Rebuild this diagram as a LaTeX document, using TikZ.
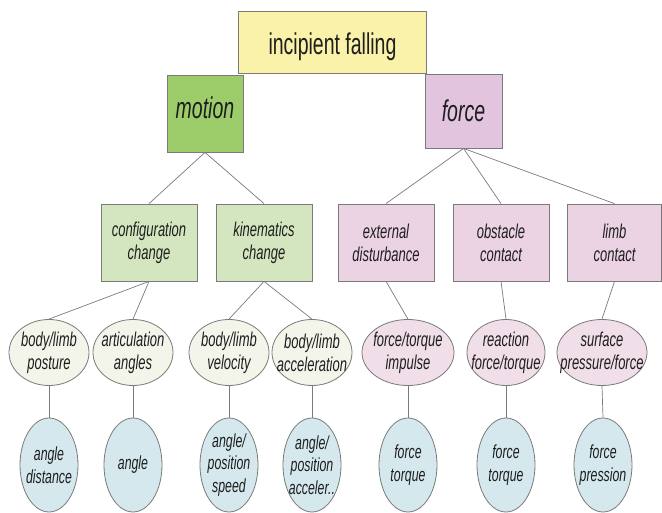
\documentclass[tikz,border=0pt]{standalone}
\usepackage{fontspec}
\setmainfont[FakeStretch=0.65]{Liberation Sans}
\usetikzlibrary{shapes.geometric}
\definecolor{topY}{HTML}{F9F2A8}
\definecolor{motG}{HTML}{9DCC6B}
\definecolor{lvtwoG}{HTML}{D4E6BF}
\definecolor{forP}{HTML}{E2C4DE}
\definecolor{lvtwoP}{HTML}{EBD3E4}
\definecolor{lvthreeP}{HTML}{F0DEE9}
\definecolor{lvthreeC}{HTML}{F3F5EA}
\definecolor{lvfourB}{HTML}{D4E8EE}
\definecolor{edgeC}{HTML}{7A7A7A}
\definecolor{txtC}{HTML}{1E1E1E}
\tikzset{
  box/.style={draw=edgeC, line width=0.8pt, rectangle, inner sep=0pt, align=center, text=txtC},
  oval/.style={draw=edgeC, line width=0.8pt, ellipse, inner sep=-25pt, align=center, text=txtC,
    font=\fontsize{20}{23}\selectfont\itshape},
  lvtwo/.style={box, minimum width=96pt, minimum height=77pt, font=\fontsize{20}{23}\selectfont\itshape},
  lvthree/.style={oval, minimum height=66pt},
  lvfour/.style={oval, minimum width=58pt, minimum height=94pt, fill=lvfourB,
    font=\fontsize{19}{22.5}\selectfont\itshape},
  link/.style={draw=edgeC, line width=0.7pt}
}
\begin{document}
\begin{tikzpicture}[x=1pt,y=-1pt]
\useasboundingbox (0,0) rectangle (662,513);
% top
\node[box, fill=topY, minimum width=188pt, minimum height=62pt, font=\fontsize{30}{34}\selectfont,
  text height=32pt, text depth=6pt] (top) at (332.5,42) {incipient falling};
\node[box, fill=motG, minimum width=76pt, minimum height=77pt, font=\fontsize{30}{34}\selectfont\itshape,
  text height=21pt, text depth=10pt] (mot) at (205,113.5) {motion};
\node[box, fill=forP, minimum width=77pt, minimum height=74pt, font=\fontsize{30}{34}\selectfont\itshape] (frc) at (463.5,111) {force};
% level 2
\node[lvtwo, fill=lvtwoG] (cfg) at (149,242.5) {configuration\\change};
\node[lvtwo, fill=lvtwoG] (kin) at (264,242.5) {kinematics\\change};
\node[lvtwo, fill=lvtwoP] (ext) at (386,242.5) {external\\disturbance};
\node[lvtwo, fill=lvtwoP] (obs) at (501,242.5) {obstacle\\contact};
\node[lvtwo, fill=lvtwoP, minimum width=94pt] (lmb) at (614.5,242.5) {limb\\contact};
% level 3
\node[lvthree, fill=lvthreeC, minimum width=80pt] (pos) at (49,352.5) {body/limb\\posture};
\node[lvthree, fill=lvthreeC, minimum width=80pt] (art) at (133,352.5) {articulation\\angles};
\node[lvthree, fill=lvthreeC, minimum width=80pt] (vel) at (229,352.5) {body/limb\\velocity};
\node[lvthree, fill=lvthreeC, minimum width=80pt] (acc) at (312,352.5) {body/limb\\acceleration};
\node[lvthree, fill=lvthreeP, minimum width=92pt] (imp) at (408,352.5) {force/torque\\impulse};
\node[lvthree, fill=lvthreeP, minimum width=78pt] (rea) at (506,352.5) {reaction\\force/torque};
\node[lvthree, fill=lvthreeP, minimum width=90pt] (sur) at (602,352.5) {surface\\pressure/force};
% level 4
\node[lvfour] (ad) at (49,465) {angle\\distance};
\node[lvfour] (an) at (133,465) {angle};
\node[lvfour] (aps) at (229,465) {angle/\\position\\speed};
\node[lvfour] (apa) at (312,465) {angle/\\position\\acceler..};
\node[lvfour] (ft1) at (408,465) {force\\torque};
\node[lvfour] (ft2) at (506,465) {force\\torque};
\node[lvfour] (fp) at (603,465) {force\\pression};
% links
\draw[link] (mot.south) -- (cfg.north);
\draw[link] (mot.south) -- (kin.north);
\draw[link] (frc.south) -- (ext.north);
\draw[link] (frc.south) -- (obs.north);
\draw[link] (frc.south) -- (lmb.north);
\draw[link] (cfg.south) -- (pos.north);
\draw[link] (cfg.south) -- (art.north);
\draw[link] (kin.south) -- (vel.north);
\draw[link] (kin.south) -- (acc.north);
\draw[link] (ext.south) -- (imp.north);
\draw[link] (obs.south) -- (rea.north);
\draw[link] (lmb.south) -- (sur.north);
\draw[link] (pos.south) -- (ad.north);
\draw[link] (art.south) -- (an.north);
\draw[link] (vel.south) -- (aps.north);
\draw[link] (acc.south) -- (apa.north);
\draw[link] (imp.south) -- (ft1.north);
\draw[link] (rea.south) -- (ft2.north);
\draw[link] (sur.south) -- (fp.north);
\end{tikzpicture}
\end{document}
